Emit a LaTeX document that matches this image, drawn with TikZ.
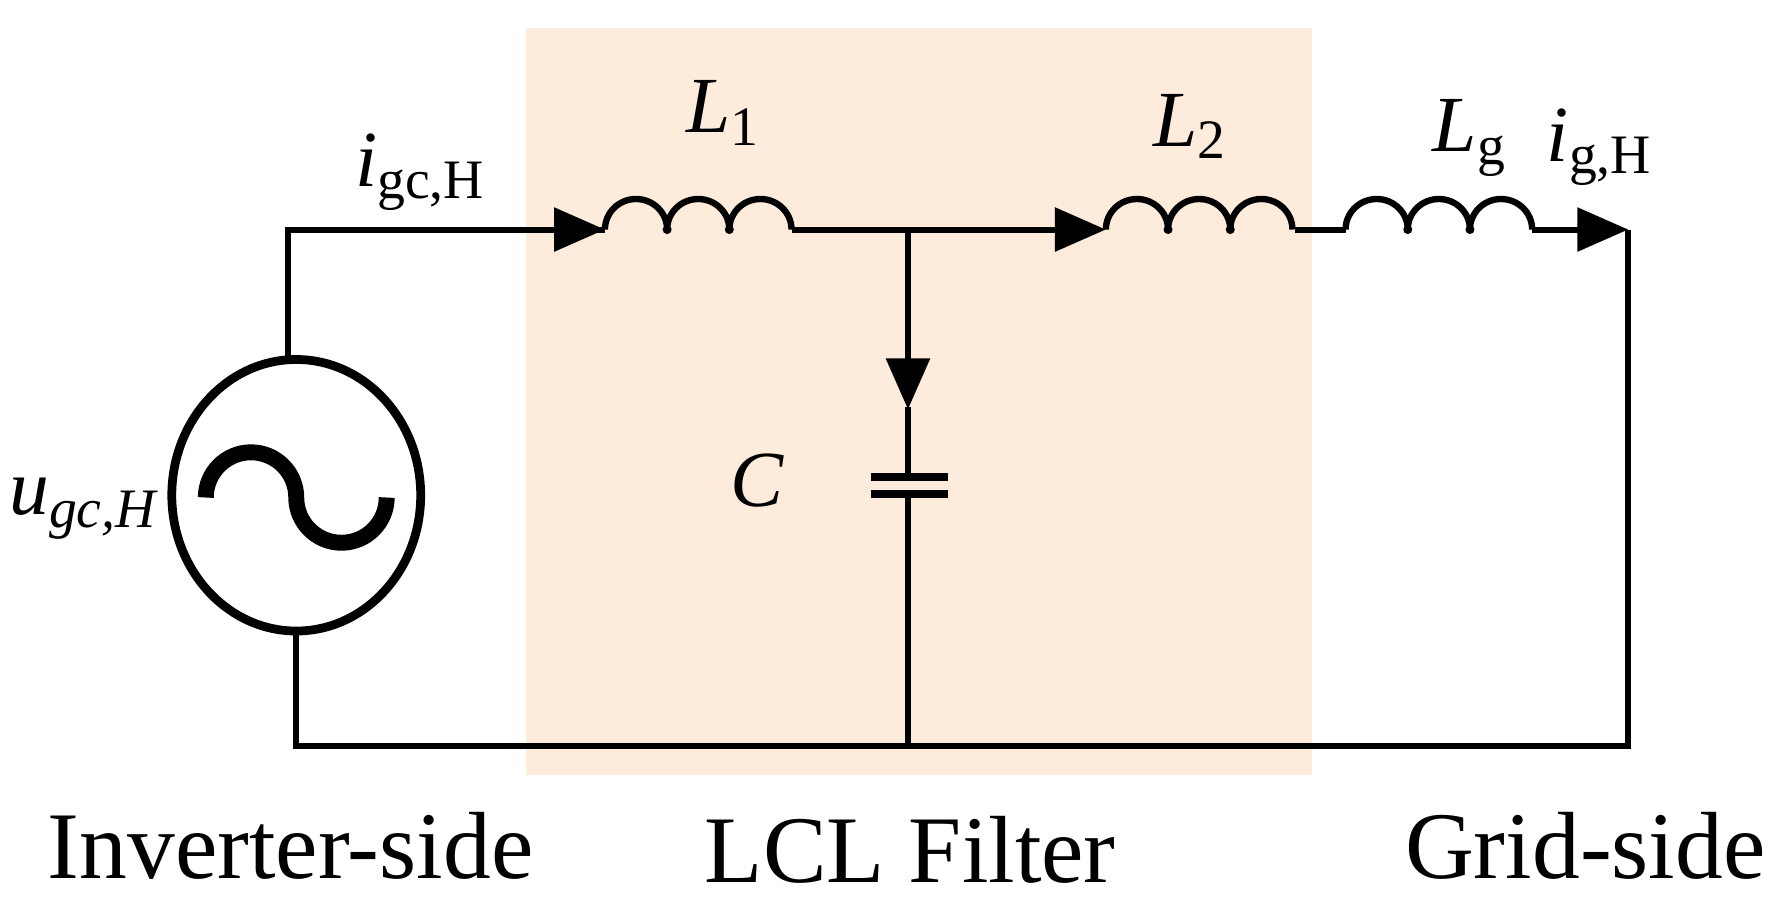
\documentclass[tikz,border=0pt]{standalone}
\usepackage{fontspec}
\setmainfont{Liberation Serif}
\usetikzlibrary{arrows.meta,shapes.geometric}
\begin{document}
\begin{tikzpicture}[x=0.01cm,y=-0.01cm,
  wire/.style={line width=1.5pt},
  tip/.style={-{Triangle[length=0.45cm,width=0.38cm]}},
  lbl/.style={font=\fontsize{20}{24}\selectfont, inner sep=0pt},
  big/.style={font=\fontsize{24}{30}\selectfont, inner sep=0pt},
  coil/.style={line width=1.6pt}]
\useasboundingbox (0,0) rectangle (1568,815);
\fill[fill={rgb,255:red,253;green,235;blue,220}] (465,25) rectangle (1160,685);
% coordinates
\coordinate (tl) at (255,203);
\coordinate (l1a) at (535,203); \coordinate (l1b) at (700,203);
\coordinate (j) at (803,203);
\coordinate (l2a) at (978,203); \coordinate (l2b) at (1145,203);
\coordinate (lga) at (1190,203); \coordinate (lgb) at (1355,203);
\coordinate (tr) at (1440,203);
\coordinate (br) at (1440,660);
\coordinate (bl) at (262,660);
\coordinate (jb) at (803,660);
\coordinate (srct) at (255,318);
\coordinate (srcb) at (262,557);
\coordinate (cap1) at (803,422);
\coordinate (cap2) at (803,437);
% wires
\draw[wire] (srct) -- (tl) -- (l1a);
\draw[wire,tip] (tl) -- (l1a);
\draw[wire,tip] (l1b) -- (l2a);
\draw[wire] (l2b) -- (lga);
\draw[wire,tip] (lgb) -- (tr);
\draw[wire] (tr) -- (br) -- (bl) -- (srcb);
\draw[wire,tip] (j) -- (803,362);
\draw[wire] (803,360) -- (cap1);
\draw[wire] (cap2) -- (jb);
\draw[line width=2pt] (770,422) -- (838,422);
\draw[line width=2pt] (770,437) -- (838,437);
% coils
\foreach \s in {535,978,1190}{
  \draw[coil] (\s,203) arc[start angle=180,end angle=0,x radius=27.5,y radius=-27]
    arc[start angle=180,end angle=0,x radius=27.5,y radius=-27]
    arc[start angle=180,end angle=0,x radius=27.5,y radius=-27];
  \fill (\s+55,203) circle (4); \fill (\s+110,203) circle (4);
}
% source
\node[draw,line width=2.2pt,ellipse,minimum width=2.2cm,minimum height=2.4cm,inner sep=0pt] (src) at (262,438) {};
\draw[line width=4pt] (182,440) arc[start angle=180,end angle=360,radius=40] arc[start angle=180,end angle=0,radius=40];
% labels
\node[lbl] (lab1) at (372,152) {\textit{i}\textsubscript{gc,H}};
\node[lbl] (lab2) at (640,100) {\textit{L}\textsubscript{1}};
\node[lbl] (lab3) at (1053,112) {\textit{L}\textsubscript{2}};
\node[lbl] (lab4) at (1300,122) {\textit{L}\textsubscript{g}};
\node[lbl] (lab5) at (1415,130) {\textit{i}\textsubscript{g,H}};
\node[lbl] (lab6) at (670,425) {\textit{C}};
\node[lbl] (lab7) at (75,450) {\textit{u}\textsubscript{\textit{gc,H}}};
\node[big] (lab8) at (257,748) {Inverter-side};
\node[big] (lab9) at (805,752) {LCL Filter};
\node[big] (lab10) at (1402,748) {Grid-side};
\end{tikzpicture}
\end{document}
